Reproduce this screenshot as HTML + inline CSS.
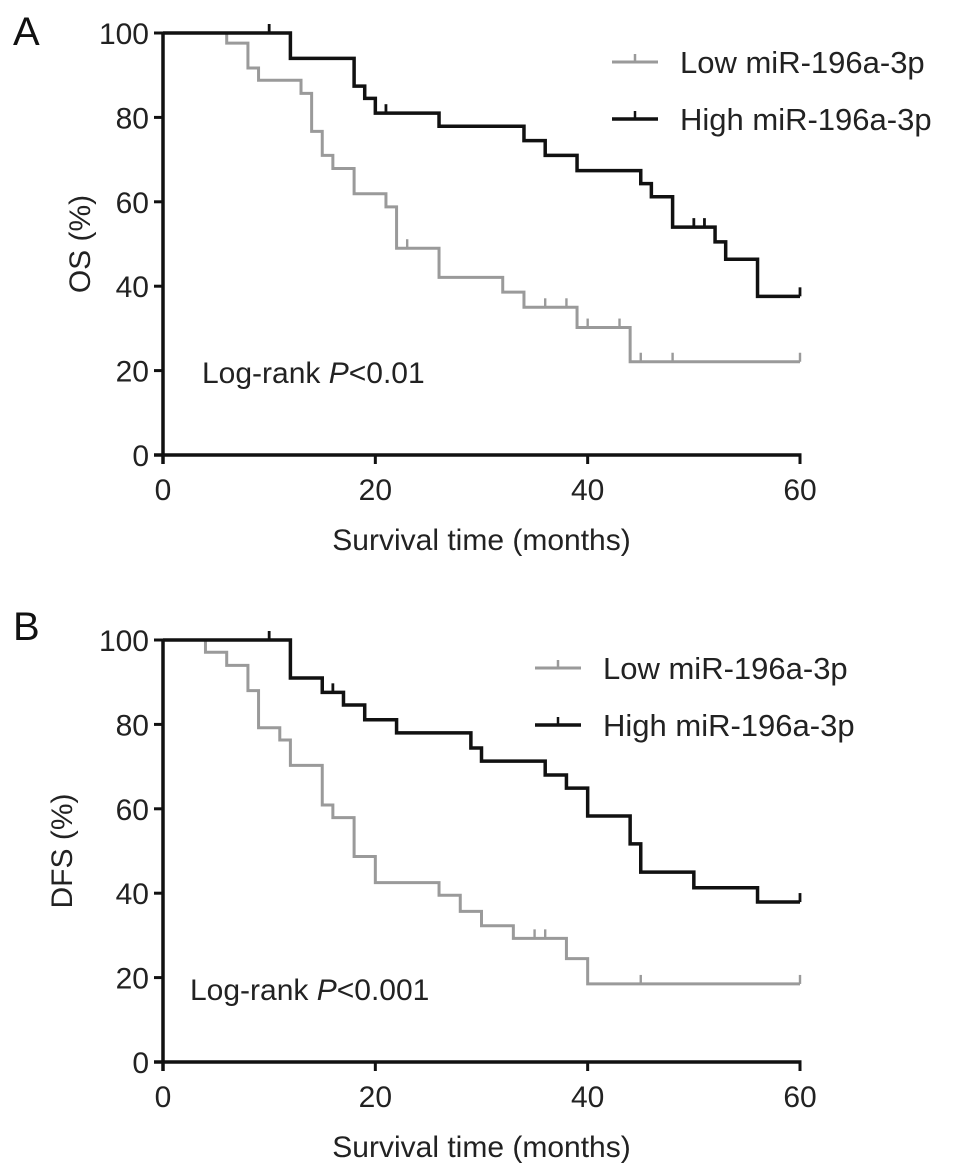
<!DOCTYPE html>
<html><head><meta charset="utf-8"><style>
html,body{margin:0;padding:0;background:#fff;}
svg{display:block;font-family:"Liberation Sans",Arial,sans-serif;}
</style></head><body>
<svg id="chart" width="969" height="1172" viewBox="0 0 969 1172" xmlns="http://www.w3.org/2000/svg"></svg>
<script>
// Panel A (OS)
const osLowSteps = [[0,100],[6,97.6],[8,91.7],[9,88.8],[13,85.7],[14,76.7],[15,71],[16,67.9],[18,61.9],[21,58.8],[22,49],[26,42.1],[32,38.6],[34,35],[39,30.2],[44,22.1],[60,22.1]];
const osLowCensor = [23,36,38,40,43,45,48,60];
const osHighSteps = [[0,100],[12,94],[18,87.4],[19,84.5],[20,81],[26,77.9],[34,74.5],[36,71],[39,67.4],[45,64.3],[46,61.2],[48,54],[52,50.5],[53,46.4],[56,37.6],[60,37.6]];
const osHighCensor = [10,21,50,51,60];
// Panel B (DFS)
const dfsLowSteps = [[0,100],[4,97.1],[6,94],[8,88],[9,79.2],[11,76.3],[12,70.3],[15,60.9],[16,57.9],[18,48.7],[20,42.5],[26,39.5],[28,35.7],[30,32.3],[33,29.3],[38,24.5],[40,18.5],[60,18.5]];
const dfsLowCensor = [35,36,45,60];
const dfsHighSteps = [[0,100],[12,91],[15,87.6],[17,84.6],[19,81.1],[22,78],[29,74.4],[30,71.3],[36,68],[38,64.9],[40,58.3],[44,51.7],[45,45],[50,41.3],[56,37.9],[60,37.9]];
const dfsHighCensor = [10,16,60];
const yTicks = [0,20,40,60,80,100];
const xTicks = [0,20,40,60];

const NS="http://www.w3.org/2000/svg";
const svg=document.getElementById('chart');
function mk(tag,attrs,parent){const e=document.createElementNS(NS,tag);for(const k in attrs)e.setAttribute(k,attrs[k]);(parent||svg).appendChild(e);return e;}

const X0=163, X60=800;
function xs(t){return X0+(X60-X0)*t/60;}

function panel(cfg){
  const g=mk('g',{});
  
  
  const ys=v=>cfg.y0-(cfg.y0-cfg.y100)*v/100;
  const L=mk('text',{x:13,y:cfg.letterY,'font-size':40,fill:'#111'},g);L.textContent=cfg.letter;
  
  
  function series(steps,cens,color,w,nm){
    let d='M'+xs(steps[0][0])+' '+ys(steps[0][1]);
    for(let i=1;i<steps.length;i++){d+=' H'+xs(steps[i][0])+' V'+ys(steps[i][1]);}
    const p=mk('path',{d:d,fill:'none',stroke:color,'stroke-width':w},g);
    
    
    cens.forEach(t=>{
      let v=steps[0][1];for(const s of steps){if(s[0]<=t)v=s[1];}
      const c=mk('line',{x1:xs(t),x2:xs(t),y1:ys(v),y2:ys(v)-9,stroke:color,'stroke-width':w*0.8},g);
      
      
    });
  }
  series(cfg.low,cfg.lowC,'#9a9a9a',3,'low-mir');
  series(cfg.high,cfg.highC,'#111',3.5,'high-mir');
  const ya=mk('line',{x1:X0,x2:X0,y1:cfg.y100-1,y2:cfg.y0+9,stroke:'#111','stroke-width':3.5},g);
  
  
  const xa=mk('line',{x1:X0-9,x2:X60+1.5,y1:cfg.y0,y2:cfg.y0,stroke:'#111','stroke-width':3.5},g);
  
  
  yTicks.forEach(v=>{
    mk('line',{x1:X0-9,x2:X0,y1:ys(v),y2:ys(v),stroke:'#111','stroke-width':3},g);
    const t=mk('text',{x:X0-14,y:ys(v)+11,'text-anchor':'end','font-size':30,fill:'#222'},g);t.textContent=v;
    
    
  });
  xTicks.forEach(v=>{
    mk('line',{x1:xs(v),x2:xs(v),y1:cfg.y0,y2:cfg.y0+9,stroke:'#111','stroke-width':3},g);
    const t=mk('text',{x:xs(v),y:cfg.y0+45,'text-anchor':'middle','font-size':30,fill:'#222'},g);t.textContent=v;
    
    
  });
  const xt=mk('text',{x:(X0+X60)/2,y:cfg.y0+95,'text-anchor':'middle','font-size':30,fill:'#222'},g);xt.textContent='Survival time (months)';
  
  
  const cy=(cfg.y0+cfg.y100)/2;
  const yt=mk('text',{x:cfg.ytx,y:cy,'text-anchor':'middle','font-size':30,fill:'#222',transform:'rotate(-90 '+cfg.ytx+' '+cy+')'},g);yt.textContent=cfg.ytitle;
  
  
  const lr=mk('text',{x:cfg.lrx,y:cfg.lry,'font-size':30,fill:'#222'},g);
  lr.innerHTML='Log-rank <tspan font-style="italic">P</tspan>'+cfg.p;
  
  
  [['Low miR-196a-3p','#9a9a9a',3],['High miR-196a-3p','#111',3.5]].forEach((e,i)=>{
    const lg=mk('g',{},g);
    
    
    const ly=cfg.legY+i*57;
    mk('line',{x1:cfg.legX,x2:cfg.legX+46,y1:ly,y2:ly,stroke:e[1],'stroke-width':e[2]},lg);
    mk('line',{x1:cfg.legX+23,x2:cfg.legX+23,y1:ly,y2:ly-8,stroke:e[1],'stroke-width':2.5},lg);
    const t=mk('text',{x:cfg.legX+68,y:ly+11,'font-size':31,fill:'#222'},lg);t.textContent=e[0];
  });
}
panel({name:'panel-a-os',letter:'A',letterY:45,y0:455,y100:33,low:osLowSteps,lowC:osLowCensor,high:osHighSteps,highC:osHighCensor,ytitle:'OS (%)',ytx:90,lrx:202,lry:383,p:'<0.01',legX:612,legY:62});
panel({name:'panel-b-dfs',letter:'B',letterY:640,y0:1062,y100:640,low:dfsLowSteps,lowC:dfsLowCensor,high:dfsHighSteps,highC:dfsHighCensor,ytitle:'DFS (%)',ytx:72,lrx:190,lry:1000,p:'<0.001',legX:535,legY:668});
</script>
</body></html>
